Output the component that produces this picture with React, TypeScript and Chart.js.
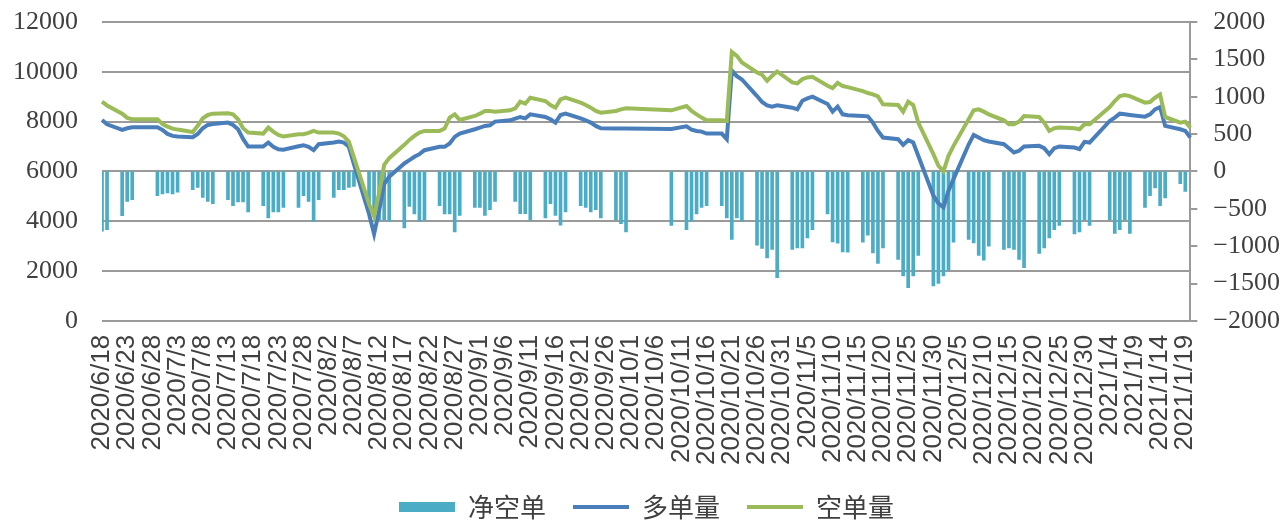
import React, { useEffect, useRef } from 'react';
import { Chart, registerables } from 'chart.js';

Chart.register(...registerables);

// Trading days shown (Chinese futures calendar)
const tradeDates: string[] = [
  '2020/6/18', '2020/6/19', '2020/6/22', '2020/6/23', '2020/6/24', '2020/6/29', '2020/6/30',
  '2020/7/1', '2020/7/2', '2020/7/3', '2020/7/6', '2020/7/7', '2020/7/8', '2020/7/9', '2020/7/10',
  '2020/7/13', '2020/7/14', '2020/7/15', '2020/7/16', '2020/7/17', '2020/7/20', '2020/7/21', '2020/7/22',
  '2020/7/23', '2020/7/24', '2020/7/27', '2020/7/28', '2020/7/29', '2020/7/30', '2020/7/31',
  '2020/8/3', '2020/8/4', '2020/8/5', '2020/8/6', '2020/8/7', '2020/8/10', '2020/8/11', '2020/8/12',
  '2020/8/13', '2020/8/14', '2020/8/17', '2020/8/18', '2020/8/19', '2020/8/20', '2020/8/21', '2020/8/24',
  '2020/8/25', '2020/8/26', '2020/8/27', '2020/8/28', '2020/8/31',
  '2020/9/1', '2020/9/2', '2020/9/3', '2020/9/4', '2020/9/7', '2020/9/8', '2020/9/9', '2020/9/10',
  '2020/9/11', '2020/9/14', '2020/9/15', '2020/9/16', '2020/9/17', '2020/9/18', '2020/9/21', '2020/9/22',
  '2020/9/23', '2020/9/24', '2020/9/25', '2020/9/28', '2020/9/29', '2020/9/30',
  '2020/10/9', '2020/10/12', '2020/10/13', '2020/10/14', '2020/10/15', '2020/10/16', '2020/10/19',
  '2020/10/20', '2020/10/21', '2020/10/22', '2020/10/23', '2020/10/26', '2020/10/27', '2020/10/28',
  '2020/10/29', '2020/10/30',
  '2020/11/2', '2020/11/3', '2020/11/4', '2020/11/5', '2020/11/6', '2020/11/9', '2020/11/10', '2020/11/11',
  '2020/11/12', '2020/11/13', '2020/11/16', '2020/11/17', '2020/11/18', '2020/11/19', '2020/11/20',
  '2020/11/23', '2020/11/24', '2020/11/25', '2020/11/26', '2020/11/27', '2020/11/30',
  '2020/12/1', '2020/12/2', '2020/12/3', '2020/12/4', '2020/12/7', '2020/12/8', '2020/12/9', '2020/12/10',
  '2020/12/11', '2020/12/14', '2020/12/15', '2020/12/16', '2020/12/17', '2020/12/18', '2020/12/21',
  '2020/12/22', '2020/12/23', '2020/12/24', '2020/12/25', '2020/12/28', '2020/12/29', '2020/12/30', '2020/12/31',
  '2021/1/4', '2021/1/5', '2021/1/6', '2021/1/7', '2021/1/8', '2021/1/11', '2021/1/12', '2021/1/13',
  '2021/1/14', '2021/1/15', '2021/1/18', '2021/1/19', '2021/1/20',
];

// 多单量 (left axis)
const longVol: number[] = [
  8067, 7893, 7667, 7733, 7773, 7773, 7667,
  7507, 7427, 7400, 7373, 7507, 7733, 7867, 7907, 7960, 7867, 7693, 7307, 7000, 7000, 7160, 6987, 6893, 6870,
  7013, 7053, 6987, 6853, 7093,
  7160, 7200, 7160, 6987, 6293, 4293, 3493, 4427, 5493, 5787, 6320, 6453, 6587, 6693, 6853, 6987, 6987, 7120,
  7387, 7520, 7693,
  7760, 7827, 7853, 8000, 8053, 8120, 8187, 8133, 8293, 8187, 8093, 7960, 8267, 8320, 8133, 8053, 7960, 7827,
  7733, 7720, 7720, 7720,
  7707, 7813, 7680, 7627, 7600, 7520, 7520, 7293, 10050, 9827, 9693, 9027, 8787, 8653, 8600, 8653,
  8560, 8493, 8840, 8933, 9000, 8707, 8400, 8600, 8293, 8253, 8227, 8213, 7960, 7627, 7360, 7293, 7067, 7253,
  7160, 6627, 5027,
  4720, 4560, 5227, 5693, 7080, 7467, 7360, 7253, 7200, 7093, 6933, 6760, 6827, 7000, 7027, 6933, 6693, 6933,
  7000, 6960, 6893, 7187, 7160,
  8027, 8160, 8320, 8293, 8267, 8200, 8293, 8493, 8587, 7827, 7693, 7627, 7360,
];

// 空单量 (left axis)
const shortVol: number[] = [
  8800, 8650, 8320, 8150, 8100, 8100, 7900,
  7800, 7720, 7680, 7580, 7830, 8133, 8267, 8320, 8333, 8293, 8093, 7733, 7560, 7520, 7760, 7600, 7467, 7400,
  7493, 7493, 7547, 7627, 7560,
  7560, 7520, 7413, 7187, 6560, 4693, 4200, 5133, 6267, 6533, 7067, 7267, 7427, 7560, 7627, 7627, 7720, 8160,
  8293, 8067, 8227,
  8320, 8427, 8427, 8400, 8453, 8533, 8800, 8720, 8960, 8827, 8667, 8560, 8893, 8960, 8760, 8667, 8560, 8427,
  8360, 8427, 8493, 8533,
  8453, 8627, 8427, 8293, 8160, 8053, 8053, 8027, 10800, 10640, 10373, 9973, 9880, 9640, 9840, 10013,
  9573, 9533, 9707, 9773, 9800, 9440, 9347, 9560, 9427, 9387, 9227, 9147, 9093, 9013, 8693, 8667, 8400, 8800,
  8667, 7960, 6693,
  6227, 6000, 6627, 7027, 8093, 8453, 8493, 8400, 8293, 8053, 7893, 7893, 8000, 8227, 8187, 7960, 7627, 7733,
  7760, 7733, 7693, 7893, 7893,
  8587, 8827, 9027, 9067, 9027, 8760, 8787, 8960, 9093, 8187, 7960, 8000, 7760,
];

// 净空单 (right axis)
const netShort: (number | null)[] = [
  -800, -778, -591, -400, -378, -324, -302,
  -289, -302, -276, -244, -213, -347, -400, -431, -378, -458, -409, -409, -542, -458, -622, -542, -542, -480,
  -480, -324, -400, -667, -378,
  -347, -244, -244, -213, -200, -450, -600, -650, -650, -667, -756, -467, -569, -667, -653, -458, -569, -569,
  -809, -587, -480,
  -480, -587, -511, -400, null, -400, -564, -564, -653, -622, -431, -587, -720, -542, -458, -480, -542, -511,
  -622, -650, -698, -809,
  -724, -778, -667, -569, -480, -458, -458, -622, -911, -622, -667, -987, -1031, -1156, -1044, -1422,
  -1044, -1022, -1022, -889, -778, -569, -942, -960, -1076, -1080, -947, -853, -1089, -1231, -1022, -1178,
  -1400, -1556, -1400, -1124, -1533,
  -1498, -1400, -1320, -947, -911, -956, -1124, -1187, -1000, -1044, -1022, -1044, -1178, -1289, -1098,
  -1022, -889, -778, -724, -836, -809, -644, -724,
  -644, -831, -778, -644, -831, -480, -324, -222, -458, -356, -164, -267, null,
];

const seriesNames = ['净空单', '多单量', '空单量'];
const calendarStart = [2020, 6, 18];
const calendarEnd = [2021, 1, 20];
const labelEvery = 5;
const leftAxis = { min: 0, max: 12000, step: 2000 };
const rightAxis = { min: -2000, max: 2000, step: 500 };

const gridColor = '#9a9a9a';
const textColor = '#404040';

function buildCalendar(): string[] {
  const out: string[] = [];
  const d = new Date(calendarStart[0], calendarStart[1] - 1, calendarStart[2]);
  const end = new Date(calendarEnd[0], calendarEnd[1] - 1, calendarEnd[2]);
  while (d.getTime() <= end.getTime()) {
    out.push(`${d.getFullYear()}/${d.getMonth() + 1}/${d.getDate()}`);
    d.setDate(d.getDate() + 1);
  }
  return out;
}

function spread(values: (number | null)[], labels: string[]): (number | null)[] {
  const map = new Map<string, number | null>();
  tradeDates.forEach((t, i) => map.set(t, values[i]));
  return labels.map((l) => (map.has(l) ? (map.get(l) as number | null) : null));
}

// short outward tick marks on the right axis
const rightTickMarks = {
  id: 'rightTickMarks',
  afterDraw(chart: any) {
    const s = chart.scales.y1;
    if (!s) return;
    const ctx = chart.ctx;
    ctx.save();
    ctx.strokeStyle = gridColor;
    ctx.lineWidth = 2;
    s.ticks.forEach((t: any) => {
      const y = Math.round(s.getPixelForValue(t.value));
      ctx.beginPath();
      ctx.moveTo(s.left, y);
      ctx.lineTo(s.left + 7, y);
      ctx.stroke();
    });
    ctx.restore();
  },
};

export default function App() {
  const ref = useRef<HTMLCanvasElement | null>(null);

  useEffect(() => {
    if (!ref.current) return;
    const labels = buildCalendar();
    const numFont = { family: '"Liberation Serif", serif', size: 26 };
    const chart = new Chart(ref.current, {
      type: 'bar',
      data: {
        labels,
        datasets: [
          {
            type: 'bar',
            label: seriesNames[0],
            data: spread(netShort, labels),
            yAxisID: 'y1',
            backgroundColor: '#4BACC6',
            borderWidth: 0,
            barThickness: 3,
            pointStyle: 'rect',
            order: 3,
          } as any,
          {
            type: 'line',
            label: seriesNames[1],
            data: spread(longVol, labels),
            yAxisID: 'y',
            borderColor: '#4A7EBB',
            backgroundColor: '#4A7EBB',
            borderWidth: 4,
            pointRadius: 0,
            pointStyle: 'line',
            tension: 0,
            spanGaps: true,
            order: 2,
          } as any,
          {
            type: 'line',
            label: seriesNames[2],
            data: spread(shortVol, labels),
            yAxisID: 'y',
            borderColor: '#9BBB59',
            backgroundColor: '#9BBB59',
            borderWidth: 4,
            pointRadius: 0,
            pointStyle: 'line',
            tension: 0,
            spanGaps: true,
            order: 1,
          } as any,
        ],
      },
      options: {
        responsive: true,
        maintainAspectRatio: false,
        animation: false,
        layout: { padding: { top: 22, left: 9, right: 0, bottom: -10 } },
        plugins: {
          tooltip: { enabled: false },
          legend: {
            position: 'bottom',
            labels: {
              usePointStyle: true,
              pointStyleWidth: 56,
              boxWidth: 56,
              boxHeight: 10,
              padding: 27,
              color: textColor,
              font: { family: '"Noto Sans CJK SC", sans-serif', size: 26 },
              sort: (a: any, b: any) => a.datasetIndex - b.datasetIndex,
            },
          },
        },
        scales: {
          x: {
            type: 'category',
            offset: false,
            grid: {
              display: true,
              drawOnChartArea: false,
              drawTicks: true,
              tickLength: 12,
              tickColor: 'rgba(0,0,0,0)',
            },
            border: { display: false },
            ticks: {
              autoSkip: false,
              maxRotation: 90,
              minRotation: 90,
              padding: 2,
              color: textColor,
              font: { family: '"Liberation Sans", Arial, sans-serif', size: 26 },
              callback: (_v: any, i: number) => (i % labelEvery === 0 ? labels[i] : null),
            },
          },
          y: {
            position: 'left',
            min: leftAxis.min,
            max: leftAxis.max,
            ticks: {
              stepSize: leftAxis.step,
              padding: 4,
              color: textColor,
              font: numFont,
              callback: (v: any) => String(v),
            },
            grid: { color: gridColor, lineWidth: 2, drawTicks: true, tickLength: 20, tickColor: 'rgba(0,0,0,0)' },
            border: { display: false },
          },
          y1: {
            position: 'right',
            min: rightAxis.min,
            max: rightAxis.max,
            ticks: {
              stepSize: rightAxis.step,
              padding: 4,
              color: textColor,
              font: numFont,
              callback: (v: any) => String(v).replace('-', '\u2212'),
            },
            grid: { drawOnChartArea: false, drawTicks: true, tickLength: 19, tickColor: 'rgba(0,0,0,0)' },
            border: { display: true, color: gridColor, width: 2 },
          },
        },
      },
      plugins: [rightTickMarks],
    });
    return () => chart.destroy();
  }, []);

  return (
    <div style={{ position: 'absolute', left: 0, top: 0, width: 1284, height: 520, background: '#fff' }}>
      <canvas ref={ref} />
    </div>
  );
}
